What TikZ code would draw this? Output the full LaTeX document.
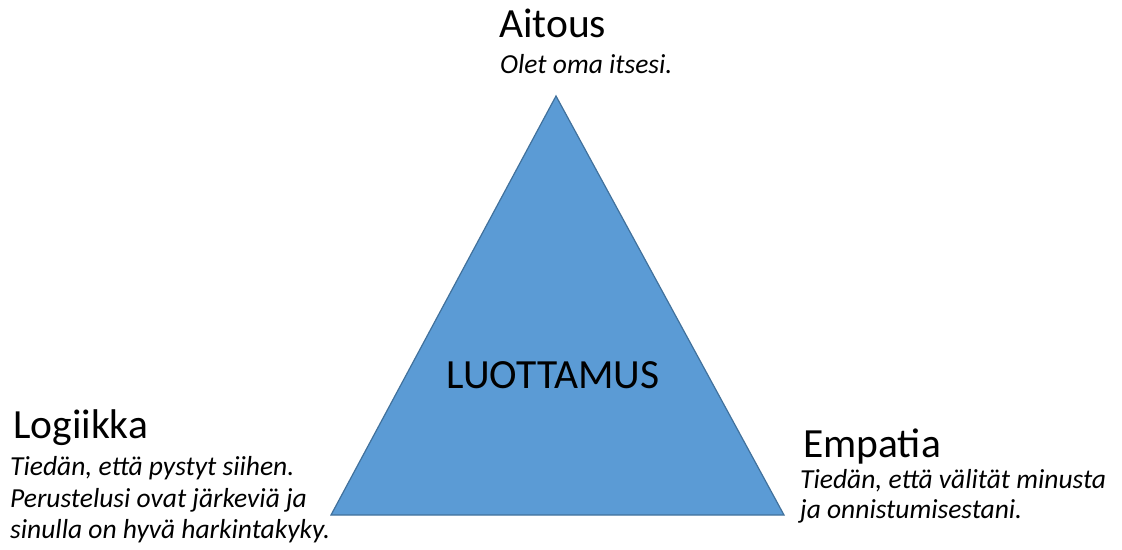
\documentclass[tikz,border=0pt]{standalone}
\usepackage{fontspec}
\setmainfont{Carlito}
\definecolor{trifill}{HTML}{5B9BD5}
\definecolor{triedge}{HTML}{41719C}
\begin{document}
\begin{tikzpicture}[x=1pt,y=-1pt,
  head/.style={anchor=base west,inner sep=0pt,font=\fontsize{41.5}{41.5}\selectfont},
  desc/.style={anchor=base west,inner sep=0pt,font=\fontsize{27.5}{31}\selectfont\itshape},
  tri/.style={fill=trifill,draw=triedge,line width=1.2pt,line join=miter}]
\useasboundingbox (0,0) rectangle (1122,549);
\coordinate (top) at (556,96);
\coordinate (bl) at (331,515);
\coordinate (br) at (784,515);
\draw[tri] (top) -- (br) -- (bl) -- cycle;
\node[anchor=base,inner sep=0pt,font=\fontsize{41.5}{41.5}\selectfont] (center) at (553,388) {LUOTTAMUS};
\node[head] (aitous) at (499,37) {Aitous};
\node[desc] (aitousd) at (500,73) {Olet oma itsesi.};
\node[head] (logiikka) at (13,438) {Logiikka};
\node[desc] (logiikka1) at (10,475) {Tiedän, että pystyt siihen.};
\node[desc] (logiikka2) at (10,507) {Perustelusi ovat järkeviä ja};
\node[desc] (logiikka3) at (10,538) {sinulla on hyvä harkintakyky.};
\node[head] (empatia) at (803,457) {Empatia};
\node[desc] (empatia1) at (800,488) {Tiedän, että välität minusta};
\node[desc] (empatia2) at (800,518) {ja onnistumisestani.};
\end{tikzpicture}
\end{document}
